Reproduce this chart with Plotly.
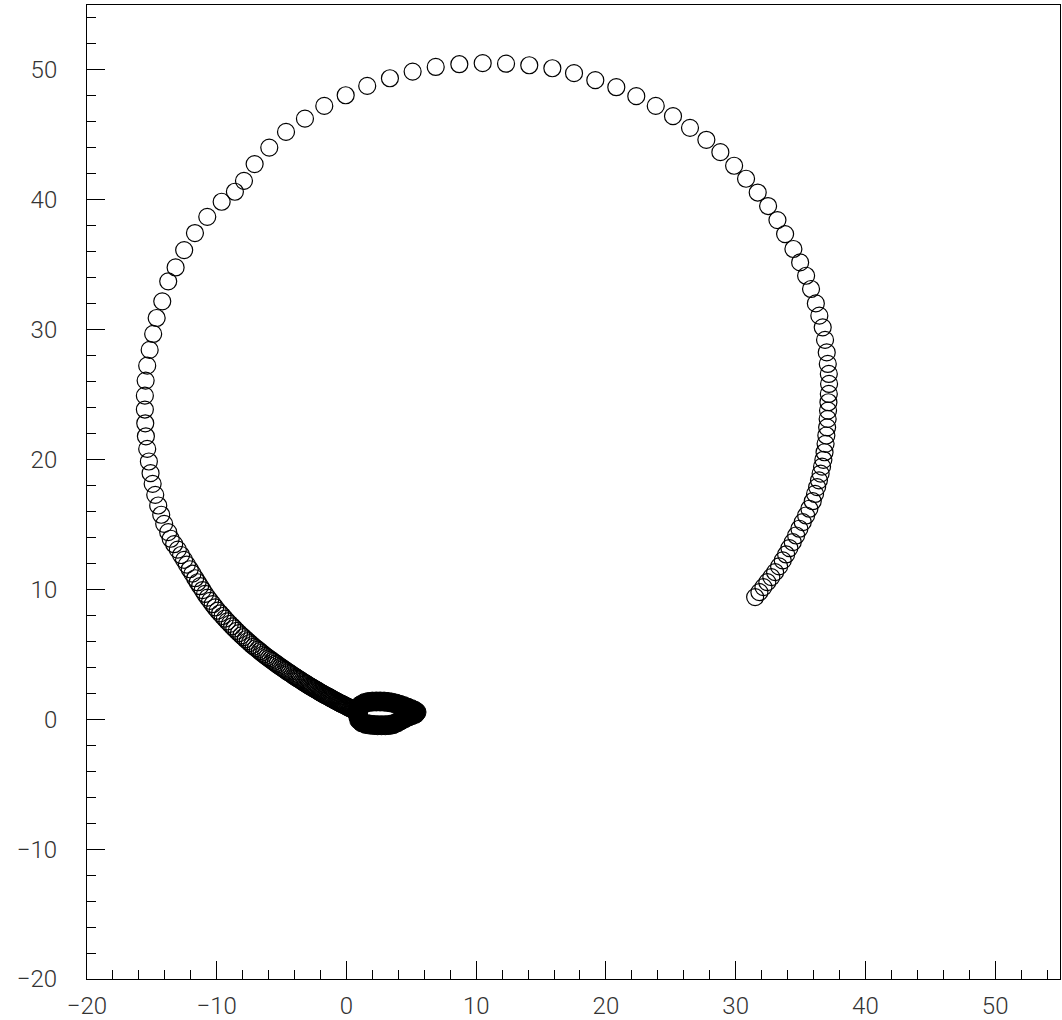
import plotly.graph_objects as go

# ---- data (x, y in axis units) ----
# outer part of the trajectory: right tail -> right side -> top -> left side
arc_x = [31.50, 31.83, 32.14, 32.44, 32.75, 33.04, 33.35, 33.63, 33.89, 34.14,
         34.40, 34.66, 34.91, 35.17, 35.43, 35.68, 35.94, 36.12, 36.28, 36.42,
         36.55, 36.66, 36.76, 36.85, 36.93, 36.99, 37.05, 37.09, 37.12, 37.15,
         37.18, 37.20, 37.18, 37.10, 37.02, 36.89, 36.71, 36.45, 36.18, 35.81,
         35.43, 34.97, 34.45, 33.81, 33.22, 32.50, 31.70, 30.80, 29.88, 28.82,
         27.74, 26.48, 25.17, 23.84, 22.34, 20.80, 19.18, 17.54, 15.87, 14.09,
         12.30, 10.50, 8.70, 6.88, 5.10, 3.35, 1.60, -0.06, -1.71, -3.20,
         -4.66, -5.95, -7.08, -7.90, -8.60, -9.62, -10.73, -11.68, -12.51, -13.17,
         -13.74, -14.20, -14.63, -14.90, -15.17, -15.36, -15.48, -15.54, -15.54, -15.51,
         -15.46, -15.36, -15.23, -15.10, -14.94, -14.74, -14.51, -14.28, -14.05, -13.74,
         -13.55]
arc_y = [9.41, 9.79, 10.18, 10.56, 10.95, 11.33, 11.77, 12.23, 12.69, 13.18,
         13.64, 14.15, 14.67, 15.18, 15.69, 16.21, 16.79, 17.35, 17.88, 18.40,
         18.92, 19.45, 19.98, 20.56, 21.21, 21.85, 22.48, 23.13, 23.77, 24.41,
         25.05, 25.82, 26.59, 27.36, 28.25, 29.21, 30.18, 31.08, 32.02, 33.13,
         34.15, 35.18, 36.21, 37.36, 38.44, 39.52, 40.56, 41.62, 42.62, 43.67,
         44.62, 45.54, 46.44, 47.23, 47.98, 48.67, 49.21, 49.75, 50.13, 50.36,
         50.48, 50.52, 50.44, 50.23, 49.87, 49.36, 48.77, 48.05, 47.23, 46.25,
         45.23, 44.02, 42.75, 41.46, 40.62, 39.85, 38.69, 37.44, 36.13, 34.79,
         33.72, 32.18, 30.90, 29.67, 28.44, 27.23, 26.08, 24.92, 23.85, 22.79,
         21.79, 20.82, 19.85, 18.95, 18.13, 17.28, 16.46, 15.75, 15.05, 14.41,
         13.90]

# lower-left band running into the origin, circles getting denser
band_x = [-13.28, -13.00, -12.75, -12.52, -12.30, -12.08, -11.87, -11.66, -11.47, -11.28,
          -11.09, -10.90, -10.70, -10.51, -10.31, -10.12, -9.93, -9.74, -9.55, -9.37,
          -9.18, -8.99, -8.81, -8.64, -8.46, -8.28, -8.10, -7.94, -7.77, -7.61,
          -7.45, -7.28, -7.13, -6.98, -6.83, -6.68, -6.54, -6.39, -6.24, -6.11,
          -5.98, -5.85, -5.72, -5.59, -5.46, -5.33, -5.20, -5.08, -4.96, -4.85,
          -4.73, -4.62, -4.50, -4.39, -4.27, -4.16, -4.04, -3.94, -3.84, -3.74,
          -3.64, -3.54, -3.43, -3.33, -3.23, -3.13, -3.03, -2.93, -2.84, -2.75,
          -2.67, -2.58, -2.49, -2.41, -2.32, -2.24, -2.15, -2.06, -1.98, -1.89,
          -1.81, -1.73, -1.65, -1.57, -1.49, -1.41, -1.33, -1.26, -1.18, -1.10,
          -1.02, -0.94, -0.86, -0.78, -0.71, -0.64, -0.57, -0.50, -0.43, -0.36,
          -0.29, -0.21, -0.14, -0.07, 0.00, 0.07, 0.14, 0.21, 0.28, 0.34,
          0.41, 0.47, 0.53, 0.59, 0.66, 0.72, 0.78, 0.84]
band_y = [13.48, 13.06, 12.65, 12.27, 11.91, 11.55, 11.21, 10.86, 10.55, 10.25,
          9.95, 9.65, 9.37, 9.12, 8.86, 8.61, 8.37, 8.16, 7.95, 7.75,
          7.54, 7.34, 7.16, 6.99, 6.81, 6.63, 6.46, 6.32, 6.16, 6.02,
          5.87, 5.72, 5.59, 5.48, 5.36, 5.24, 5.12, 5.00, 4.88, 4.78,
          4.69, 4.60, 4.50, 4.41, 4.31, 4.22, 4.12, 4.04, 3.96, 3.88,
          3.80, 3.72, 3.64, 3.57, 3.49, 3.41, 3.33, 3.26, 3.20, 3.13,
          3.07, 3.01, 2.94, 2.87, 2.81, 2.75, 2.68, 2.62, 2.56, 2.51,
          2.46, 2.41, 2.36, 2.31, 2.26, 2.21, 2.16, 2.10, 2.05, 2.00,
          1.96, 1.91, 1.87, 1.83, 1.78, 1.74, 1.70, 1.66, 1.61, 1.57,
          1.53, 1.48, 1.44, 1.40, 1.36, 1.32, 1.28, 1.25, 1.21, 1.18,
          1.14, 1.11, 1.07, 1.04, 1.00, 0.96, 0.93, 0.89, 0.86, 0.83,
          0.80, 0.76, 0.73, 0.70, 0.67, 0.64, 0.61, 0.58]

# final tight loop near the origin (overlapping circles form a solid blob)
blob_x = [0.90, 0.95, 1.10, 1.40, 1.70, 2.00, 2.30, 2.60, 2.90, 3.20,
          3.50, 3.80, 4.10, 4.40, 4.70, 5.00, 5.25, 5.40, 5.30, 5.05,
          4.80, 4.50, 4.20, 3.90, 3.60, 3.30, 3.00, 2.70, 2.40, 2.10,
          1.80, 1.50, 1.20, 0.98, 0.90]
blob_y = [0.55, 0.85, 1.08, 1.25, 1.33, 1.36, 1.37, 1.37, 1.36, 1.33,
          1.28, 1.21, 1.12, 1.02, 0.90, 0.78, 0.66, 0.55, 0.42, 0.32,
          0.22, 0.08, -0.08, -0.25, -0.38, -0.44, -0.46, -0.46, -0.46, -0.44,
          -0.41, -0.36, -0.25, -0.05, 0.25]

x_ticks = [-20, -10, 0, 10, 20, 30, 40, 50]
y_ticks = [-20, -10, 0, 10, 20, 30, 40, 50]
x_range = [-20, 55]
y_range = [-20, 55]

MARKER_SIZE = 17
BLOB_SIZE = 19

fig = go.Figure()
fig.add_trace(go.Scatter(
    x=arc_x + band_x, y=arc_y + band_y, mode="markers",
    marker=dict(symbol="circle-open", size=MARKER_SIZE, color="black",
                line=dict(width=1.2, color="black")),
    showlegend=False, hoverinfo="skip"))
fig.add_trace(go.Scatter(
    x=blob_x, y=blob_y, mode="markers",
    marker=dict(symbol="circle", size=BLOB_SIZE, color="black",
                line=dict(width=1.0, color="black")),
    showlegend=False, hoverinfo="skip"))

tickfont = dict(family="Roboto", size=24, color="#333", weight=300)
common = dict(showgrid=False, zeroline=False, showline=True, linecolor="black",
              linewidth=1, mirror=True, ticks="inside", ticklen=18, tickwidth=1,
              tickcolor="black", tickfont=tickfont,
              minor=dict(dtick=2, ticks="inside", ticklen=9, tickwidth=1,
                         tickcolor="black", showgrid=False))

fig.update_xaxes(range=x_range, tickmode="array", tickvals=x_ticks,
                 ticklabelstandoff=5, **common)
fig.update_yaxes(range=y_range, tickmode="array", tickvals=y_ticks,
                 ticklabelstandoff=24, **common)

fig.update_layout(width=1062, height=1020,
                  margin=dict(l=87, r=2, t=5, b=41, autoexpand=False),
                  paper_bgcolor="white", plot_bgcolor="white")

fig.write_html("out.html")
